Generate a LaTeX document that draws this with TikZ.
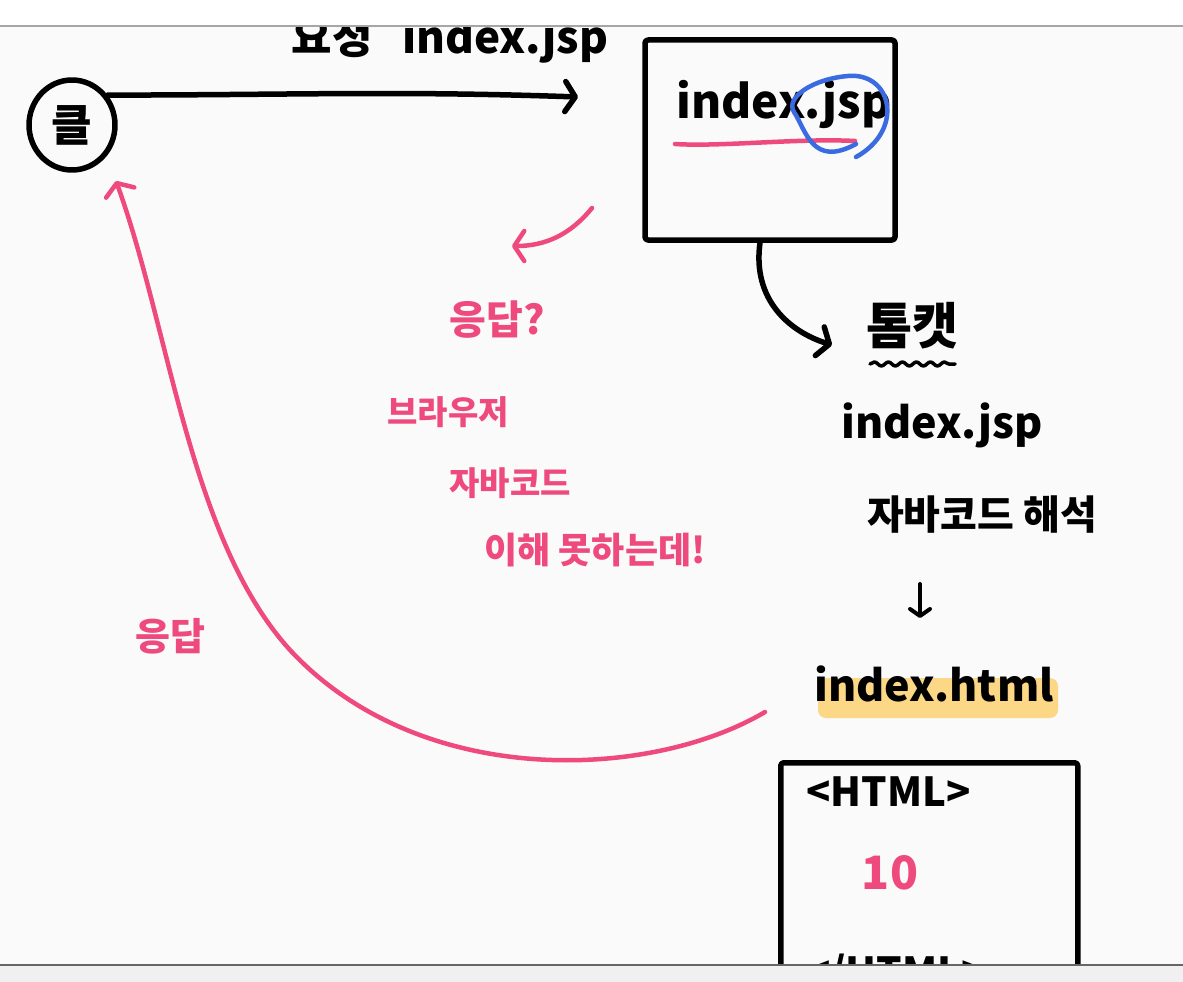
\documentclass[tikz,border=0pt]{standalone}
\usepackage{fontspec}
\setmainfont{Noto Sans CJK KR}
\usetikzlibrary{arrows.meta,decorations.pathmorphing,shapes.geometric}

\definecolor{inkpink}{HTML}{EE4A7E}
\definecolor{inkblue}{HTML}{3A6BE0}
\definecolor{marker}{HTML}{FCD886}
\definecolor{paper}{HTML}{FAFAFA}

\tikzset{
  hand/.style={line width=5.5pt, line cap=round, line join=round},
  handarrow/.style={hand, -{Straight Barb[length=10pt,width=30pt,round]}},
  note/.style={inner sep=0pt, font=\fontsize{40}{42}\selectfont\bfseries},
  pinknote/.style={note, text=inkpink},
  frame/.style={draw, hand, rounded corners=3pt}
}

\begin{document}
\begin{tikzpicture}[x=1pt,y=-1pt]
  \useasboundingbox (0,0) rectangle (1183,982);
  \fill[paper] (0,0) rectangle (1183,982);

  % client and request
  \node[hand, draw, ellipse, minimum width=86pt, minimum height=90pt, inner sep=0pt, note, font=\fontsize{44}{46}\selectfont\bfseries] (client) at (72,125) {클};
  \node[note, font=\fontsize{44}{46}\selectfont\bfseries] (req) at (450,40) {요청\hspace{30pt}index.jsp};
  \coordinate (reqend) at (578,97);
  \draw[handarrow] (client.40) to[out=0,in=178] (reqend);

  % server box
  \node[frame, minimum width=250pt, minimum height=200pt] (server) at (770,140) {};
  \node[note, font=\fontsize{46}{48}\selectfont\bfseries] (jsp) at (784,104) {index.jsp};
  \draw[hand, line width=4.5pt, inkpink] (675,144) .. controls (720,147) and (800,138) .. (855,141);
  \draw[hand, line width=4.5pt, inkblue] (856,157) .. controls (905,130) and (892,72) .. (848,76)
    .. controls (812,79) and (785,98) .. (794,112) .. controls (806,130) and (812,168) .. (856,144);

  % tomcat side
  \node[note, font=\fontsize{50}{52}\selectfont\bfseries] (tomcat) at (912,326) {톰캣};
  \draw[hand, line width=3.5pt, decorate, decoration={snake, segment length=14pt, amplitude=2pt}]
    (870,364) -- (955,364);
  \coordinate (tomin) at (832,345);
  \draw[handarrow] (server.south) ++(-10,0) .. controls (752,300) and (790,332) .. (tomin);
  \node[note, font=\fontsize{43}{45}\selectfont\bfseries] (jsp2) at (942,425) {index.jsp};
  \node[note] (parse) at (982,515) {자바코드 해석};
  \fill[marker, rounded corners=8pt] (818,678) rectangle (1058,718);
  \node[note, font=\fontsize{43}{45}\selectfont\bfseries] (html) at (934,684) {index.html};
  \draw[hand, line width=4pt, -{Straight Barb[length=7pt,width=20pt,round]}]
    (parse.south) ++(-62,50) -- ++(0,34);

  % html box
  \node[frame, minimum width=297pt, minimum height=230pt, anchor=north west] (htmlbox) at (778,760) {};
  \node[note, anchor=west] (open) at (806,792) {<HTML>};
  \node[pinknote, font=\fontsize{46}{48}\selectfont\bfseries] (ten) at (890,873) {10};
  \node[note, anchor=west] (close) at (806,974) {</HTML>};

  % browser remarks
  \coordinate (askstart) at (592,208);
  \coordinate (askend) at (512,246);
  \draw[handarrow, inkpink, line width=4.5pt] (askstart) .. controls (570,235) and (545,246) .. (askend);
  \node[pinknote] (ask) at (497,320) {응답?};
  \node[pinknote, font=\fontsize{33}{35}\selectfont\bfseries] (browser) at (448,412) {브라우저};
  \node[pinknote, font=\fontsize{33}{35}\selectfont\bfseries] (java) at (510,483) {자바코드};
  \node[pinknote, font=\fontsize{36}{38}\selectfont\bfseries] (cant) at (595,550) {이해 못하는데!};

  % response
  \coordinate (respstart) at (765,712);
  \coordinate (resptip) at (116,181);
  \draw[handarrow, inkpink, line width=4.5pt] (respstart) .. controls (650,780) and (420,790) .. (290,650)
    .. controls (190,540) and (170,330) .. (resptip);
  \node[pinknote, font=\fontsize{38}{40}\selectfont\bfseries] (resp) at (170,636) {응답};

  % window chrome
  \fill[white] (0,0) rectangle (1183,26);
  \draw[gray!70, line width=1.5pt] (0,26) -- (1183,26);
  \fill[gray!12] (0,965) rectangle (1183,982);
  \draw[gray!80!black, line width=2pt] (0,965) -- (1183,965);
\end{tikzpicture}
\end{document}
